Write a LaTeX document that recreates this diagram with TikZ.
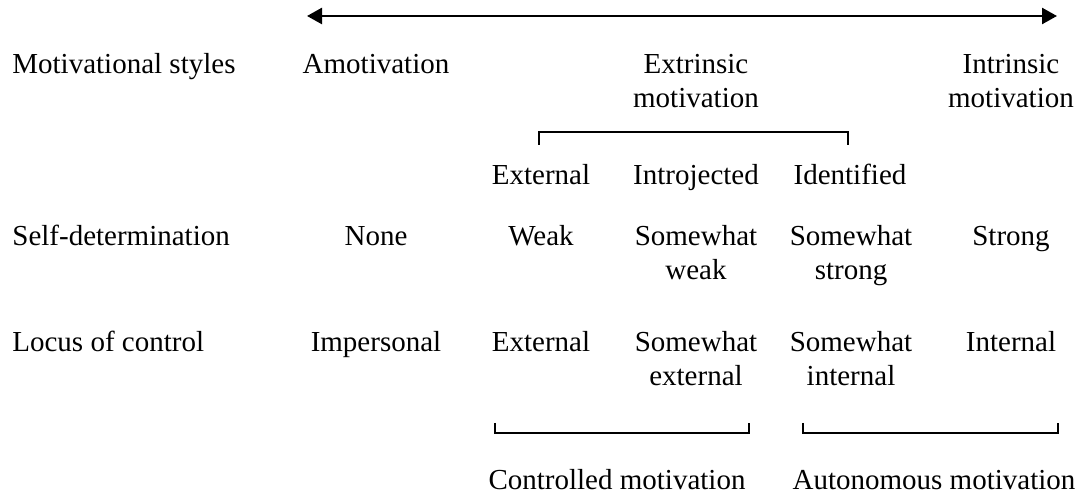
\documentclass[tikz,border=0pt]{standalone}
\usepackage{fontspec}
\setmainfont{Liberation Serif}
\usetikzlibrary{arrows.meta}
\begin{document}
\begin{tikzpicture}[x=0.5pt,y=-0.5pt,
  every node/.style={font=\fontsize{14.5}{17}\selectfont, inner sep=0pt, anchor=base, align=center},
  rowlabel/.style={anchor=base west},
  bracket/.style={line width=0.6pt},
  group/.style={line width=1pt}]
  \useasboundingbox (0,0) rectangle (1083,491);
  % continuum
  \coordinate (lo) at (307,16);
  \coordinate (hi) at (1057,16);
  \draw[{Triangle[length=7.5pt,width=8pt]}-{Triangle[length=7.5pt,width=8pt]},line width=1.25pt] (lo) -- (hi);
  % motivational styles (two-line nodes sit on their last baseline)
  \node[rowlabel] (styles) at (12,74) {Motivational styles};
  \node (amot) at (376,74) {Amotivation};
  \node (extr) at (696,108) {Extrinsic\\motivation};
  \node (intr) at (1011,108) {Intrinsic\\motivation};
  \coordinate (b1) at (539,145);
  \coordinate (b2) at (539,132);
  \coordinate (b3) at (848,132);
  \coordinate (b4) at (848,145);
  \draw[bracket] (b1) -- (b2) -- (b3) -- (b4);
  \node (ext) at (541,185) {External};
  \node (intro) at (696,185) {Introjected};
  \node (ident) at (850,185) {Identified};
  % self-determination
  \node[rowlabel] (selfdet) at (12,246) {Self-determination};
  \node (none) at (376,246) {None};
  \node (weak) at (541,246) {Weak};
  \node (swweak) at (696,280) {Somewhat\\weak};
  \node (swstrong) at (851,280) {Somewhat\\strong};
  \node (strong) at (1011,246) {Strong};
  % locus of control
  \node[rowlabel] (locus) at (12,352) {Locus of control};
  \node (imp) at (376,352) {Impersonal};
  \node (extloc) at (541,352) {External};
  \node (swext) at (696,386) {Somewhat\\external};
  \node (swint) at (851,386) {Somewhat\\internal};
  \node (intloc) at (1011,352) {Internal};
  % controlled vs autonomous
  \coordinate (c1) at (495,423);
  \coordinate (c2) at (495,433);
  \coordinate (c3) at (749,433);
  \coordinate (c4) at (749,423);
  \draw[group] (c1) -- (c2) -- (c3) -- (c4);
  \coordinate (a1) at (803,423);
  \coordinate (a2) at (803,433);
  \coordinate (a3) at (1058,433);
  \coordinate (a4) at (1058,423);
  \draw[group] (a1) -- (a2) -- (a3) -- (a4);
  \node (ctrl) at (617,490) {Controlled motivation};
  \node (auto) at (934,490) {Autonomous motivation};
\end{tikzpicture}
\end{document}
